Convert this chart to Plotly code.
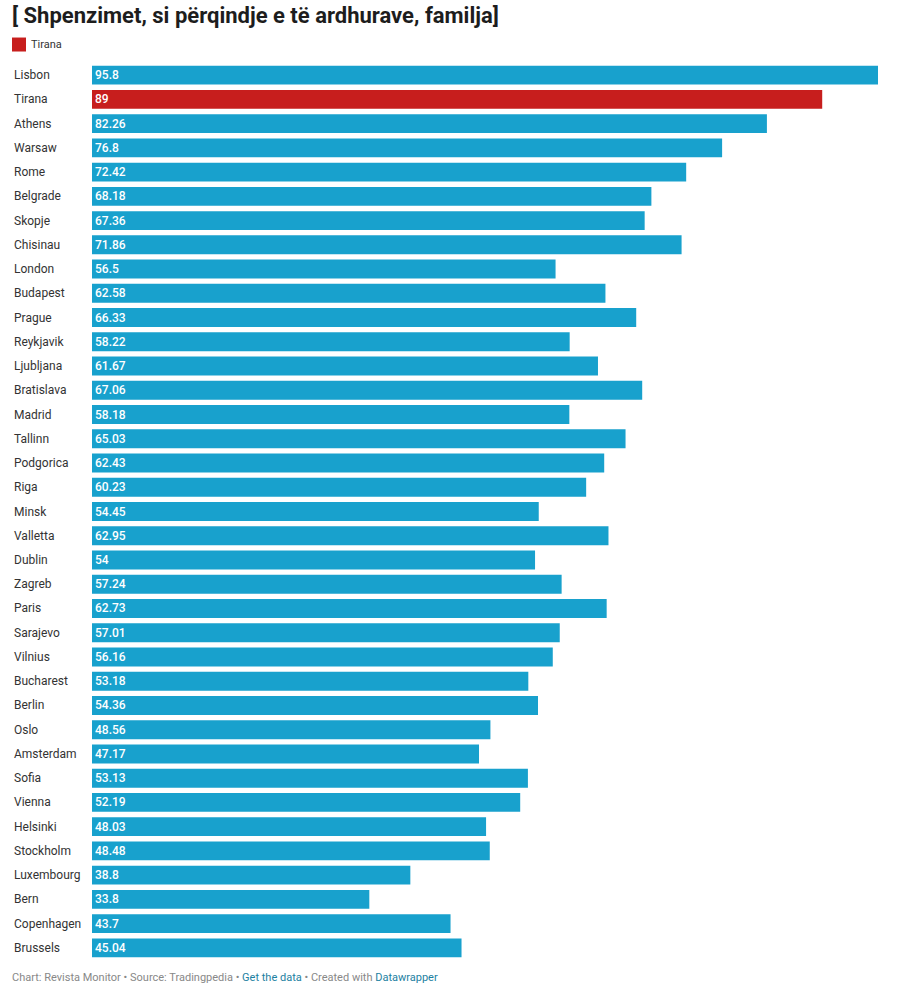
import plotly.graph_objects as go

cities = ["Lisbon", "Tirana", "Athens", "Warsaw", "Rome", "Belgrade", "Skopje", "Chisinau",
          "London", "Budapest", "Prague", "Reykjavik", "Ljubljana", "Bratislava", "Madrid",
          "Tallinn", "Podgorica", "Riga", "Minsk", "Valletta", "Dublin", "Zagreb", "Paris",
          "Sarajevo", "Vilnius", "Bucharest", "Berlin", "Oslo", "Amsterdam", "Sofia", "Vienna",
          "Helsinki", "Stockholm", "Luxembourg", "Bern", "Copenhagen", "Brussels"]
values = [95.8, 89, 82.26, 76.8, 72.42, 68.18, 67.36, 71.86, 56.5, 62.58, 66.33, 58.22,
          61.67, 67.06, 58.18, 65.03, 62.43, 60.23, 54.45, 62.95, 54, 57.24, 62.73, 57.01,
          56.16, 53.18, 54.36, 48.56, 47.17, 53.13, 52.19, 48.03, 48.48, 38.8, 33.8, 43.7, 45.04]
labels = ["95.8", "89", "82.26", "76.8", "72.42", "68.18", "67.36", "71.86", "56.5", "62.58",
          "66.33", "58.22", "61.67", "67.06", "58.18", "65.03", "62.43", "60.23", "54.45",
          "62.95", "54", "57.24", "62.73", "57.01", "56.16", "53.18", "54.36", "48.56", "47.17",
          "53.13", "52.19", "48.03", "48.48", "38.8", "33.8", "43.7", "45.04"]
highlight = "Tirana"

BLUE = "#18a1cd"
RED = "#c71e1d"
colors = [RED if c == highlight else BLUE for c in cities]

W, H = 900, 988
L, R, T, B = 92, 22, 62.5, 27.5
ph = H - T - B
pw = W - L - R

def py(p):
    return (H - B - p) / ph

def px(p):
    return (p - L) / pw

fig = go.Figure()
fig.add_trace(go.Bar(
    y=cities, x=values, orientation="h",
    marker=dict(color=colors, line=dict(width=0)),
    text=labels, textposition="inside", insidetextanchor="start", textangle=0,
    textfont=dict(color="white", size=12, family="Roboto", weight=500),
    constraintext="none", cliponaxis=False, hoverinfo="skip",
))

annotations = []
for c in cities:
    annotations.append(dict(x=px(12), xref="paper", y=c, yref="y", text=c, showarrow=False,
                            xanchor="left", yanchor="middle",
                            font=dict(family="Roboto", size=12, color="#333333")))

annotations.append(dict(x=px(10), xref="paper", y=py(15), yref="paper",
                        text="<b>[ Shpenzimet, si përqindje e të ardhurave, familja]</b>",
                        showarrow=False, xanchor="left", yanchor="middle",
                        font=dict(family="Roboto", size=22, color="#1d1d1d")))
annotations.append(dict(x=px(29), xref="paper", y=py(44), yref="paper", text=highlight,
                        showarrow=False, xanchor="left", yanchor="middle",
                        font=dict(family="Roboto", size=11, color="#333333")))
annotations.append(dict(x=px(10), xref="paper", y=py(987), yref="paper",
                        text="Chart: Revista Monitor • Source: Tradingpedia • "
                             "<span style='color:#1d81a2'>Get the data</span> • Created with "
                             "<span style='color:#1d81a2'>Datawrapper</span>",
                        showarrow=False, xanchor="left", yanchor="bottom",
                        font=dict(family="Roboto", size=11, color="#888888")))

shapes = [dict(type="rect", xref="paper", yref="paper", x0=px(12), x1=px(26),
               y0=py(51), y1=py(37), fillcolor=RED, line=dict(width=0))]

fig.update_layout(
    width=W, height=H,
    margin=dict(l=L, r=R, t=T, b=B),
    paper_bgcolor="white", plot_bgcolor="white",
    bargap=0.22, showlegend=False,
    xaxis=dict(range=[0, 95.8], visible=False, fixedrange=True),
    yaxis=dict(type="category", categoryorder="array", categoryarray=cities,
               autorange="reversed", showticklabels=False, showgrid=False,
               zeroline=False, fixedrange=True),
    annotations=annotations, shapes=shapes,
    font=dict(family="Roboto"),
)

fig.write_html("out.html")
